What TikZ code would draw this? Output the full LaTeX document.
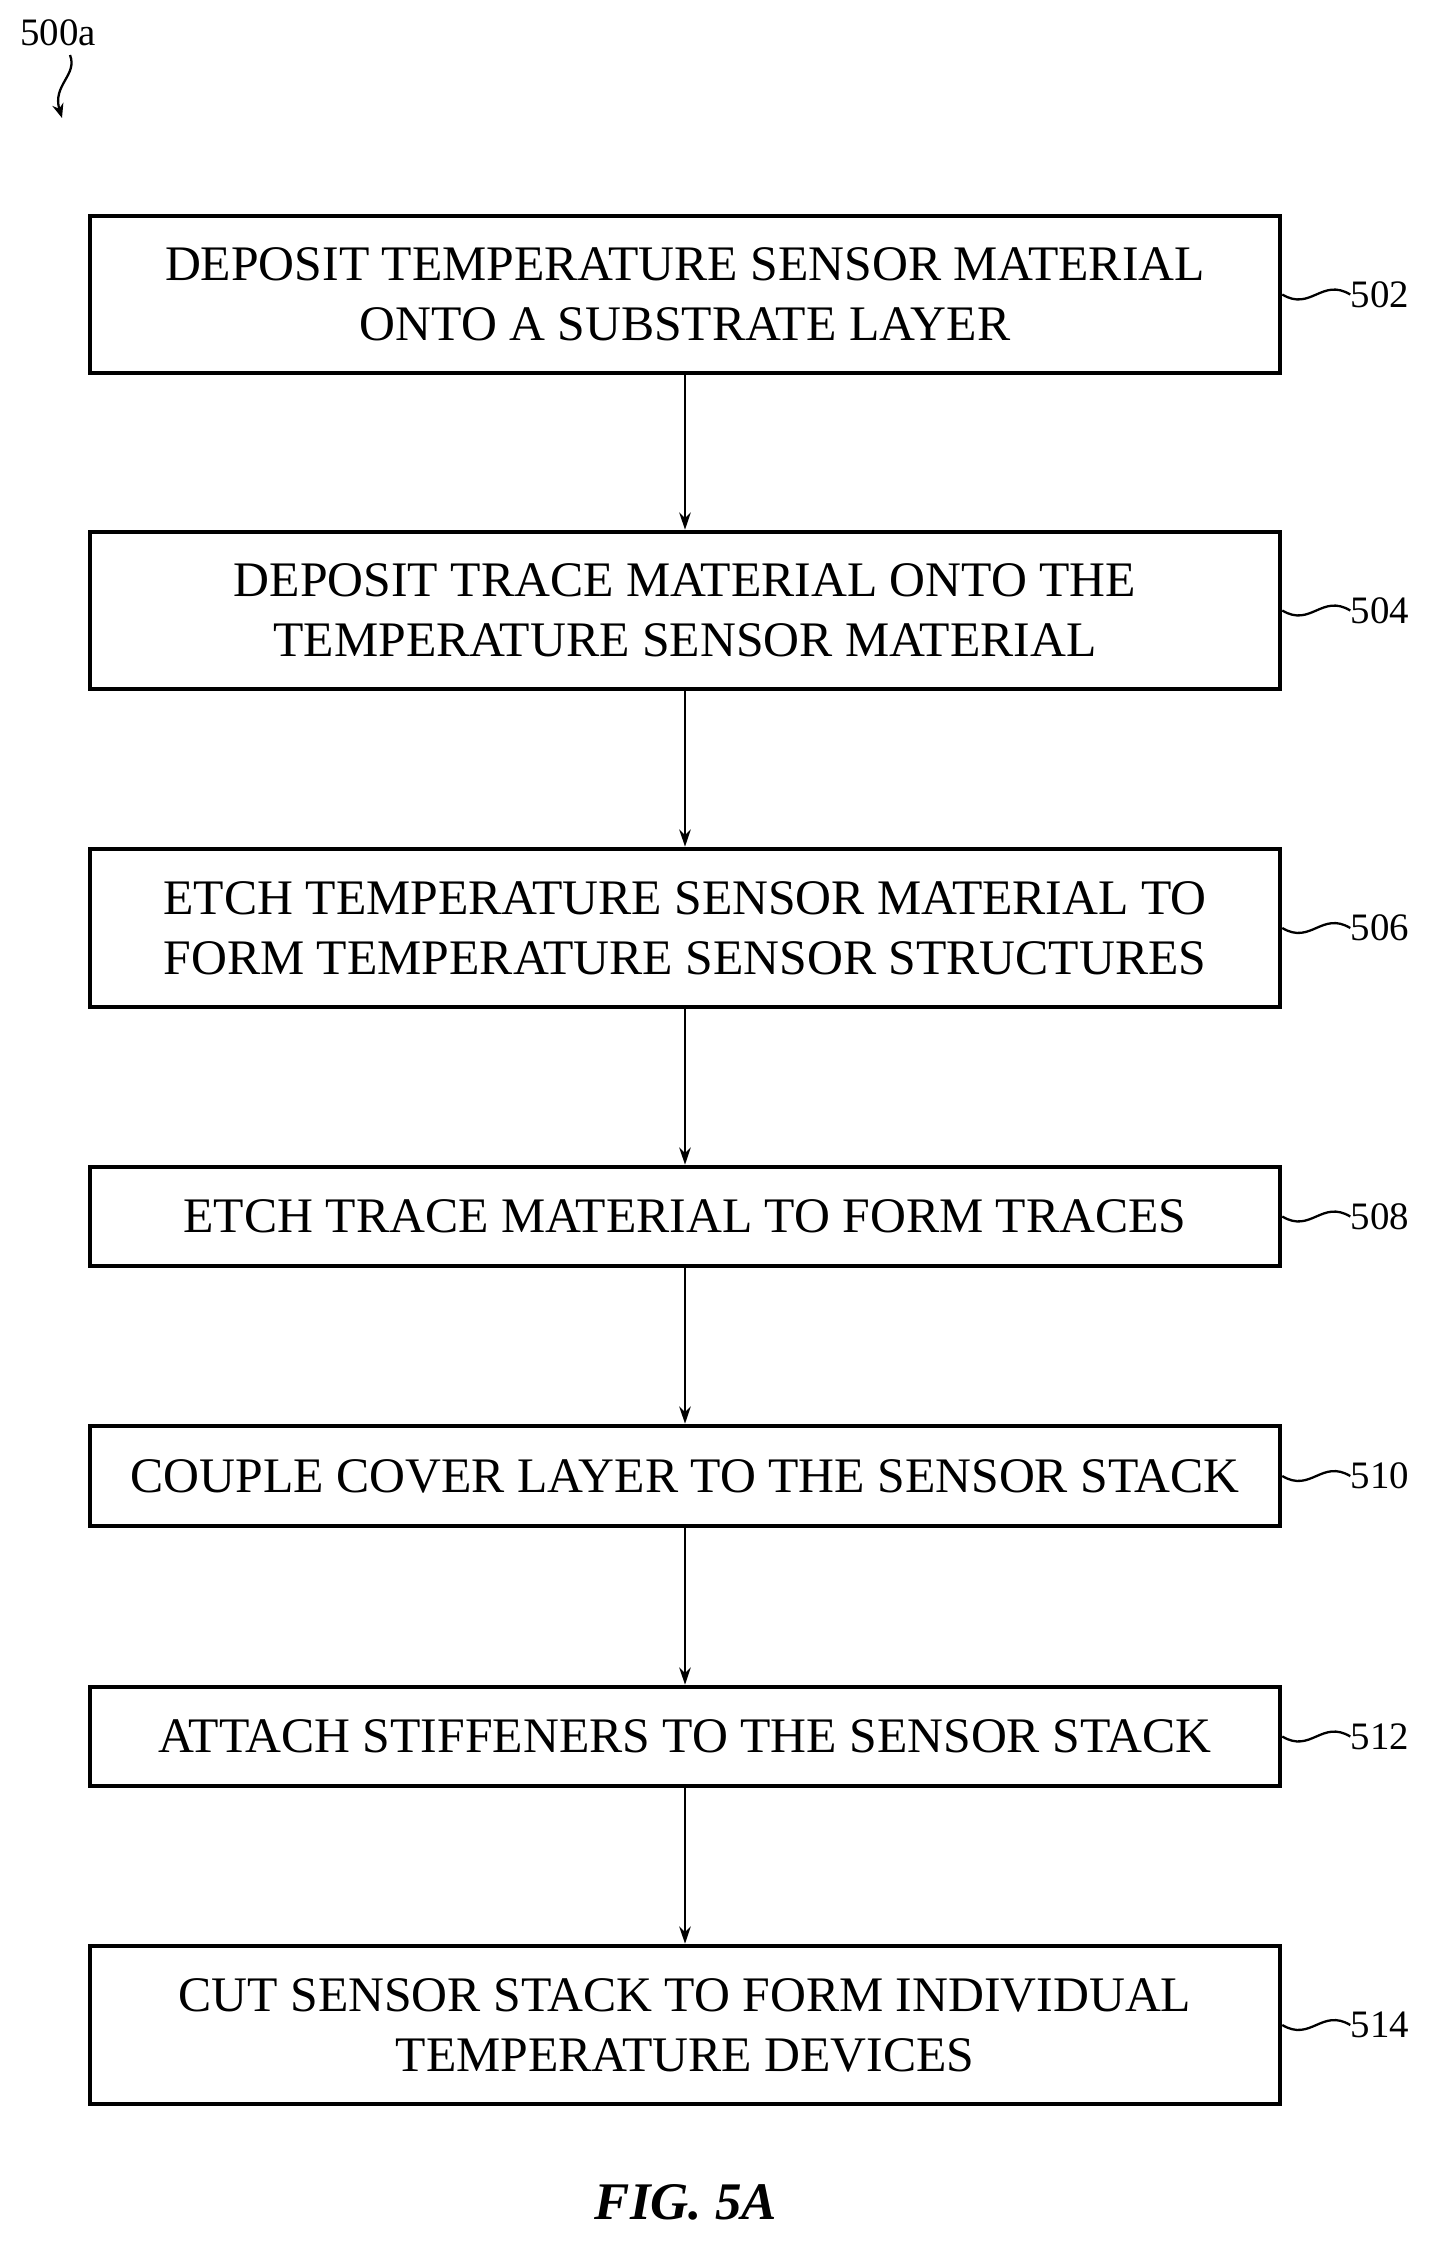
\documentclass[tikz,border=0pt]{standalone}
\usepackage{fontspec}
\setmainfont{Liberation Serif}
\usetikzlibrary{positioning,arrows.meta}
\begin{document}
\begin{tikzpicture}
            [x=0.35pt,y=-0.35pt,
             stage/.style={draw,line width=1.6pt,minimum width=1190*0.35pt,align=center,font=\fontsize{17.4}{21}\selectfont,inner sep=0pt},
             flow/.style={-{Stealth[length=6pt,width=4pt]},line width=0.7pt},
             tag/.style={font=\fontsize{13.6}{16}\selectfont,anchor=west,inner sep=0pt}]
            \useasboundingbox (0,0) rectangle (1430,2253);
            \node[stage,minimum height=157*0.35pt] (502) at (685,294.5) {DEPOSIT TEMPERATURE SENSOR MATERIAL\\ONTO A SUBSTRATE LAYER};
            \node[stage,minimum height=157*0.35pt] (504) at (685,610.5) {DEPOSIT TRACE MATERIAL ONTO THE\\TEMPERATURE SENSOR MATERIAL};
            \node[stage,minimum height=158*0.35pt] (506) at (685,928) {ETCH TEMPERATURE SENSOR MATERIAL TO\\FORM TEMPERATURE SENSOR STRUCTURES};
            \node[stage,minimum height=99*0.35pt] (508) at (685,1216.5) {ETCH TRACE MATERIAL TO FORM TRACES};
            \node[stage,minimum height=100*0.35pt] (510) at (685,1476) {COUPLE COVER LAYER TO THE SENSOR STACK};
            \node[stage,minimum height=99*0.35pt] (512) at (685,1736.5) {ATTACH STIFFENERS TO THE SENSOR STACK};
            \node[stage,minimum height=158*0.35pt] (514) at (685,2025) {CUT SENSOR STACK TO FORM INDIVIDUAL\\TEMPERATURE DEVICES};
            %
            \draw[flow] (502) -- (504);
            \draw[flow] (504) -- (506);
            \draw[flow] (506) -- (508);
            \draw[flow] (508) -- (510);
            \draw[flow] (510) -- (512);
            \draw[flow] (512) -- (514);
            %
            \foreach \n in {502,504,506,508,510,512,514} {
                \node[tag] (t\n) at ([xshift=68*0.35pt]\n.east) {\n};
                \draw[line width=0.8pt] (\n.east) .. controls +(10pt,-6pt) and +(-10pt,6pt) .. (t\n.west);
            }
            %
            \node[font=\fontsize{13.6}{16}\selectfont,inner sep=0pt] (lbl) at (58,33) {500a};
            \coordinate (tip) at (62,118);
            \draw[line width=0.8pt,-{Stealth[length=5pt,width=4pt]}] (70,55) .. controls (78,75) and (52,85) .. (tip);
            %
            \node[font=\fontsize{18.5}{20}\selectfont\bfseries\itshape] (fig) at (686,2202) {FIG. 5A};
        \end{tikzpicture}
\end{document}
